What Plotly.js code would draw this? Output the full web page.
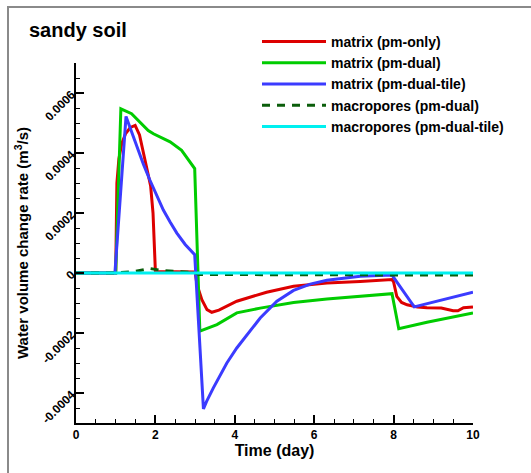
<!DOCTYPE html>
<html>
<head>
<meta charset="utf-8">
<script src="https://cdn.plot.ly/plotly-3.0.1.min.js"></script>
<style>
  html, body { margin: 0; padding: 0; background: #fff; }
  #wrap { position: relative; width: 531px; height: 473px; }
  #chart { width: 531px; height: 473px; }
  #frame { position: absolute; left: 7px; top: 6px; right: 0; bottom: 0;
           border-left: 2px solid #8a8a8a; border-top: 2px solid #8a8a8a; pointer-events: none; }
</style>
</head>
<body>
<div id="wrap">
  <div id="chart"></div>
  <div id="frame"></div>
</div>
<script>
// ---- data ----
const seriesNames = ['matrix (pm-only)', 'matrix (pm-dual)', 'matrix (pm-dual-tile)', 'macropores (pm-dual)', 'macropores (pm-dual-tile)'];

const pmOnlyT = [0, 1.0, 1.03, 1.08, 1.15, 1.25, 1.37, 1.49, 1.6, 1.7, 1.8, 1.88, 1.94, 1.98, 2.0, 3.0, 3.05, 3.17, 3.3, 3.42, 3.6, 4.05, 4.8, 5.48, 6.32, 7.16, 7.96, 8.0, 8.08, 8.2, 8.34, 8.6, 8.84, 9.2, 9.34, 9.5, 9.62, 9.76, 10];
const pmOnlyV = [0, 0, 0.0003, 0.00038, 0.00043, 0.000465, 0.000485, 0.000492, 0.00046, 0.0004, 0.00034, 0.00029, 0.0002, 0.00005, 0.000005, 0.000003, -0.00004, -0.000089, -0.000122, -0.000131, -0.000124, -0.000094, -0.000064, -0.000044, -0.000033, -0.000028, -0.000022, -0.00003, -0.000078, -0.000098, -0.000106, -0.000113, -0.000116, -0.000117, -0.000122, -0.000126, -0.000126, -0.000116, -0.000113];

const pmDualT = [0, 1.0, 1.13, 1.4, 1.82, 1.95, 2.37, 2.66, 2.99, 3.12, 3.55, 4.05, 4.64, 5.48, 6.32, 7.16, 7.96, 8.13, 8.84, 10];
const pmDualV = [0, 0, 0.000547, 0.000531, 0.000475, 0.000464, 0.000437, 0.000409, 0.000348, -0.000194, -0.000172, -0.000133, -0.000117, -0.000098, -0.000087, -0.000078, -0.000069, -0.000186, -0.000164, -0.000133];

const tileT = [0, 0.98, 1.26, 1.4, 1.53, 1.7, 1.86, 2.03, 2.2, 2.37, 2.54, 2.75, 2.99, 3.21, 3.29, 3.46, 3.63, 3.8, 4.05, 4.3, 4.64, 5.06, 5.48, 5.9, 6.32, 7.16, 7.96, 8.52, 10];
const tileV = [0, 0, 0.000522, 0.00047, 0.00042, 0.000362, 0.00031, 0.000258, 0.00021, 0.00017, 0.000133, 0.000095, 0.000061, -0.000453, -0.000428, -0.000383, -0.000339, -0.0003, -0.00025, -0.000206, -0.00015, -0.000094, -0.000058, -0.000037, -0.000024, -0.000011, -0.000007, -0.000113, -0.000064];

const macroDualT = [0, 1.0, 1.49, 1.86, 2.19, 2.56, 3.0, 3.1, 8.0, 10];
const macroDualV = [0, 0, 0.000005, 0.000015, 0.000008, 0.000005, 0.000001, -0.000005, -0.000005, -0.000007];

const macroTileT = [0, 10];
const macroTileV = [0, 0];

const xTickVals = [0, 2, 4, 6, 8, 10];
const xTickLabels = ['0', '2', '4', '6', '8', '10'];
const yTickVals = [-0.0004, -0.0002, 0, 0.0002, 0.0004, 0.0006];
const yTickLabels = ['-0.0004', '-0.0002', '0', '0.0002', '0.0004', '0.0006'];

// ---- traces ----
const FONT = 'Liberation Sans, Arial, Helvetica, sans-serif';
const lw = 3;
const traces = [
  {x: pmOnlyT, y: pmOnlyV, name: seriesNames[0], mode: 'lines', line: {color: '#dd0000', width: lw}},
  {x: pmDualT, y: pmDualV, name: seriesNames[1], mode: 'lines', line: {color: '#00cc00', width: lw}},
  {x: tileT, y: tileV, name: seriesNames[2], mode: 'lines', line: {color: '#3b3bff', width: lw}},
  {x: macroDualT, y: macroDualV, name: seriesNames[3], mode: 'lines', line: {color: '#0b5e0b', width: lw, dash: '8px,7px'}},
  {x: macroTileT, y: macroTileV, name: seriesNames[4], mode: 'lines', line: {color: '#00f0f0', width: lw}}
];

const layout = {
  width: 531, height: 473,
  margin: {l: 76, r: 58, t: 63, b: 50, pad: 0},
  paper_bgcolor: '#fff', plot_bgcolor: '#fff',
  showlegend: true,
  font: {family: FONT, color: '#000'},
  title: {text: 'sandy soil', x: 29/531, xanchor: 'left', xref: 'container',
          y: 1 - 30/473, yanchor: 'middle', yref: 'container',
          font: {family: FONT, size: 20, weight: 'bold', color: '#000'}},
  legend: {x: (257 - 76) / 397, y: (423 - 26) / 360, xanchor: 'left', yanchor: 'top',
           bgcolor: 'rgba(0,0,0,0)', borderwidth: 0, itemwidth: 64, tracegroupgap: 0,
           font: {family: FONT, size: 14, weight: 'bold', color: '#000'}},
  xaxis: {range: [0, 10], showgrid: false, zeroline: false, showline: true, linecolor: '#000', linewidth: 2,
          ticks: 'inside', ticklen: 8, tickwidth: 2, tickcolor: '#000',
          tickmode: 'array', tickvals: xTickVals, ticktext: xTickLabels,
          minor: {tickmode: 'linear', dtick: 0.5, tick0: 0, ticks: 'inside', ticklen: 4, tickwidth: 1, tickcolor: '#000', showgrid: false},
          tickfont: {family: FONT, size: 12, weight: 'bold', color: '#000'},
          title: {text: 'Time (day)', standoff: 2, font: {family: FONT, size: 16, weight: 'bold', color: '#000'}}},
  yaxis: {range: [-0.0005, 0.0007], showgrid: false, zeroline: false, showline: true, linecolor: '#000', linewidth: 2,
          ticks: 'inside', ticklen: 8, tickwidth: 2, tickcolor: '#000',
          tickmode: 'array', tickvals: yTickVals, ticktext: yTickLabels, tickangle: -45,
          minor: {tickmode: 'linear', dtick: 0.00005, tick0: 0, ticks: 'inside', ticklen: 4, tickwidth: 1, tickcolor: '#000', showgrid: false},
          tickfont: {family: FONT, size: 12, weight: 'bold', color: '#000'},
          title: {text: 'Water volume change rate (m<sup>3</sup>/s)', standoff: 7, font: {family: FONT, size: 15, weight: 'bold', color: '#000'}}}
};

Plotly.newPlot('chart', traces, layout, {displayModeBar: false, staticPlot: true});
</script>
</body>
</html>
